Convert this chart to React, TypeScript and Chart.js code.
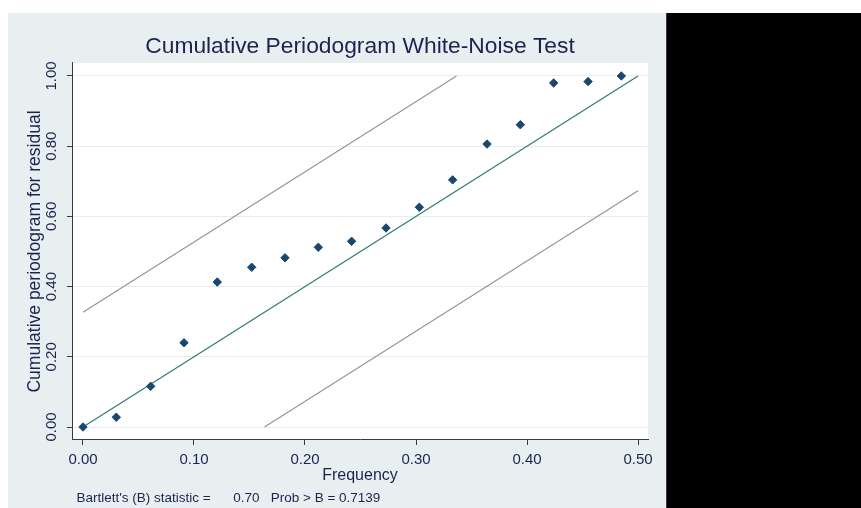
import React, { useEffect, useRef } from "react";
import { Chart, registerables } from "chart.js";

Chart.register(...registerables);

// ---- data ----
const FREQ = [0.0, 0.03, 0.061, 0.091, 0.121, 0.152, 0.182, 0.212, 0.242, 0.273, 0.303, 0.333, 0.364, 0.394, 0.424, 0.455, 0.485];
const CUMPER = [0.0, 0.028, 0.116, 0.24, 0.413, 0.455, 0.482, 0.512, 0.529, 0.567, 0.626, 0.704, 0.806, 0.861, 0.98, 0.984, 1.0];

const DIAG_X = [0, 0.5];
const DIAG_Y = [0, 1];
const UPPER_X = [0, 0.3365];
const UPPER_Y = [0.327, 1];
const LOWER_X = [0.1635, 0.5];
const LOWER_Y = [0, 0.673];

const X_TICKS = [0, 0.1, 0.2, 0.3, 0.4, 0.5];
const Y_TICKS = [0, 0.2, 0.4, 0.6, 0.8, 1.0];

const TITLE = "Cumulative Periodogram White-Noise Test";
const X_TITLE = "Frequency";
const Y_TITLE = "Cumulative periodogram for residual";
const NOTE = "Bartlett's (B) statistic =      0.70   Prob > B = 0.7139";

// ---- styles ----
const FONT = "'Liberation Sans', Arial, sans-serif";
const NAVY = "#1a476f";
const TEAL = "#2f7d6d";
const GRAY = "#939393";
const PANEL = "#e8eff1";
const TEXT = "#1c2350";
const AXIS = "#3a3a3a";

const toPts = (xs: number[], ys: number[]) => xs.map((x, i) => ({ x, y: ys[i] }));

export default function App() {
  const ref = useRef<HTMLCanvasElement>(null);

  useEffect(() => {
    document.body.style.overflow = "hidden";
    const canvas = ref.current!;

    const plotBg = {
      id: "plotBg",
      beforeDraw(chart: any) {
        const { ctx, chartArea } = chart;
        ctx.save();
        ctx.fillStyle = "#ffffff";
        ctx.fillRect(chartArea.left, chartArea.top, chartArea.right - chartArea.left, chartArea.bottom - chartArea.top);
        ctx.restore();
      },
    };

    const note = {
      id: "note",
      afterDraw(chart: any) {
        const { ctx, chartArea } = chart;
        ctx.save();
        ctx.font = `13.5px ${FONT}`;
        ctx.fillStyle = TEXT;
        ctx.textBaseline = "middle";
        ctx.textAlign = "left";
        ctx.fillText(NOTE, chartArea.left + 4.5, chart.height - 10);
        ctx.restore();
      },
    };

    const chart = new Chart(canvas, {
      type: "scatter",
      data: {
        datasets: [
          {
            label: "cumper",
            data: toPts(FREQ, CUMPER),
            pointStyle: "rectRot",
            pointRadius: 4.2,
            pointBorderWidth: 1,
            backgroundColor: NAVY,
            borderColor: NAVY,
            showLine: false,
          },
          {
            label: "diag",
            data: toPts(DIAG_X, DIAG_Y),
            showLine: true,
            pointRadius: 0,
            borderColor: TEAL,
            borderWidth: 1.2,
          },
          {
            label: "upper",
            data: toPts(UPPER_X, UPPER_Y),
            showLine: true,
            pointRadius: 0,
            borderColor: GRAY,
            borderWidth: 1.1,
          },
          {
            label: "lower",
            data: toPts(LOWER_X, LOWER_Y),
            showLine: true,
            pointRadius: 0,
            borderColor: GRAY,
            borderWidth: 1.1,
          },
        ],
      },
      options: {
        animation: false,
        responsive: false,
        devicePixelRatio: 1,
        layout: { padding: { left: 0, right: 18, top: 0, bottom: 18 } },
        plugins: {
          legend: { display: false },
          tooltip: { enabled: false },
          title: {
            display: true,
            text: TITLE,
            fullSize: false,
            color: TEXT,
            font: { family: FONT, size: 22.8, weight: "normal" },
            padding: { top: 20, bottom: 2.6 },
          },
        },
        scales: {
          x: {
            type: "linear",
            min: -0.0099,
            max: 0.509,
            afterBuildTicks: (s: any) => {
              s.ticks = X_TICKS.map((v) => ({ value: v }));
            },
            afterFit: (s: any) => {
              s.height = 50;
            },
            ticks: {
              autoSkip: false,
              padding: 6,
              color: TEXT,
              font: { family: FONT, size: 15 },
              callback: (v: any) => Number(v).toFixed(2),
            },
            grid: { drawOnChartArea: false, tickLength: 5, tickColor: AXIS, tickWidth: 1 },
            border: { display: true, color: AXIS, width: 1 },
            title: {
              display: true,
              text: X_TITLE,
              color: TEXT,
              font: { family: FONT, size: 16 },
              padding: { top: 0, bottom: 4.4 },
            },
          },
          y: {
            type: "linear",
            min: -0.037,
            max: 1.037,
            afterBuildTicks: (s: any) => {
              s.ticks = Y_TICKS.map((v) => ({ value: v }));
            },
            afterFit: (s: any) => {
              s.width = 64;
            },
            ticks: {
              autoSkip: false,
              minRotation: 90,
              maxRotation: 90,
              crossAlign: "center",
              padding: 0.5,
              color: TEXT,
              font: { family: FONT, size: 15 },
              callback: (v: any) => Number(v).toFixed(2),
            },
            grid: { color: "#e4edf0", lineWidth: 1, tickLength: 5, tickColor: AXIS, tickWidth: 1 },
            border: { display: true, color: AXIS, width: 1 },
            title: {
              display: true,
              text: Y_TITLE,
              color: TEXT,
              font: { family: FONT, size: 17.5 },
              padding: { top: 16.5, bottom: 0 },
            },
          },
        },
      },
      plugins: [plotBg, note],
    } as any);

    return () => chart.destroy();
  }, []);

  return (
    <>
      <div
        style={{
          position: "absolute",
          left: 8,
          top: 13,
          width: 658,
          height: 495,
          background: PANEL,
        }}
      >
        <canvas ref={ref} width={658} height={495} style={{ width: 658, height: 495, display: "block" }} />
      </div>
      <div
        style={{
          position: "absolute",
          left: 666,
          top: 13,
          width: 195,
          height: 495,
          background: "#000",
          borderLeft: "1px solid #3a3a3a",
          boxSizing: "border-box",
        }}
      />
    </>
  );
}
